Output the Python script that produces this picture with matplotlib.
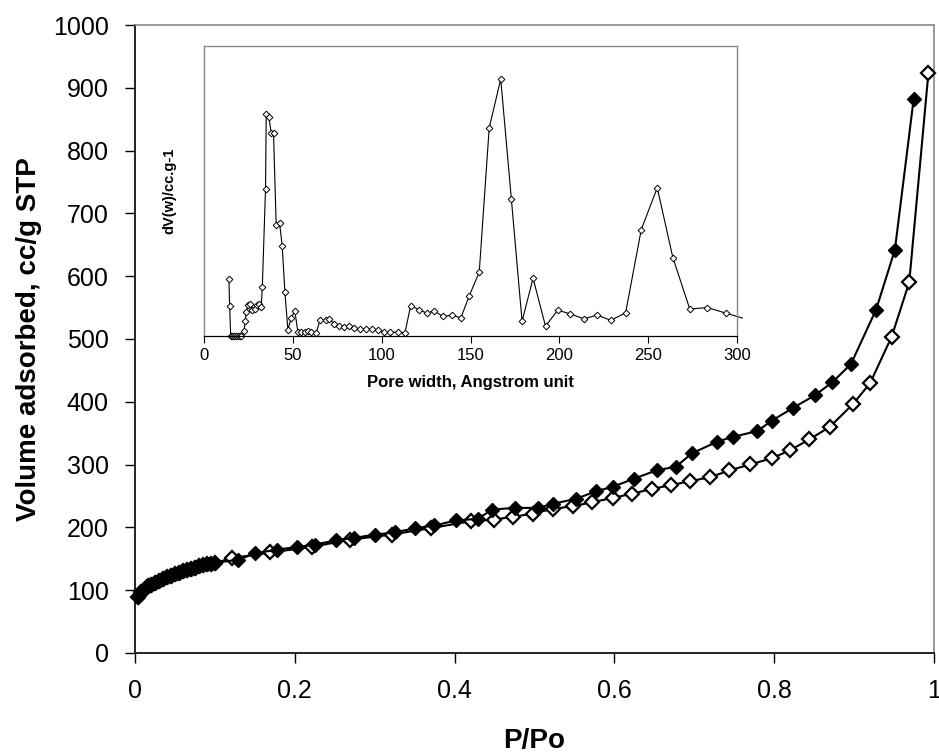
import matplotlib
matplotlib.use("Agg")
import matplotlib.pyplot as plt
import numpy as np

plt.rcParams['font.family'] = ['Liberation Sans', 'DejaVu Sans']

# main isotherm, low pressure part shared by both branches
low_p = [0.004, 0.008, 0.012, 0.016, 0.02, 0.025, 0.03, 0.035, 0.04, 0.045, 0.05,
         0.055, 0.06, 0.065, 0.07, 0.075, 0.08, 0.085, 0.09, 0.095, 0.1]
low_v = [89, 97, 102, 106, 109, 112, 115, 118, 121, 123, 125.5,
         127.5, 130, 132, 134, 136, 138, 139.5, 141, 142, 143.5]

# adsorption branch (open diamonds)
ads_p = [0.121, 0.169, 0.221, 0.269, 0.321, 0.371, 0.420, 0.4495, 0.473, 0.498,
         0.523, 0.548, 0.572, 0.598, 0.622, 0.6475, 0.671, 0.695, 0.720, 0.744,
         0.770, 0.797, 0.820, 0.844, 0.870, 0.899, 0.920, 0.947, 0.969, 0.993]
ads_v = [151, 160, 168.8, 180.5, 188.5, 199, 209.7, 212.5, 216.8, 222,
         229.5, 233.7, 240, 247, 253.5, 261.5, 267.3, 273.6, 280, 290.7,
         300.3, 310, 323, 340, 360.5, 397, 429.7, 503.7, 590.6, 924]

# desorption branch (filled diamonds)
des_p = [0.1295, 0.150, 0.1775, 0.2025, 0.225, 0.251, 0.274, 0.300, 0.325, 0.350,
         0.3745, 0.4016, 0.429, 0.447, 0.475, 0.5045, 0.5225, 0.552, 0.5775, 0.598,
         0.6245, 0.653, 0.677, 0.697, 0.729, 0.748, 0.779, 0.797, 0.823, 0.851,
         0.8725, 0.896, 0.9275, 0.951, 0.9745]
des_v = [148.6, 158.5, 164.5, 168.8, 172.5, 179.4, 183.2, 188.5, 192, 198.6,
         203, 211, 213.6, 228.4, 231, 231, 237.5, 245.5, 257.7, 264.7,
         277.5, 291, 296.6, 318, 336.6, 344, 353.5, 370, 389.8, 410.5,
         430.8, 460, 546.8, 642, 882]

# pore size distribution (inset), y in arbitrary units
psd_w = [14.0, 14.4, 15, 16, 17, 18, 19, 20, 21, 22.5, 23.2, 23.8, 24.7, 25.7, 27.2,
         28.5, 29.8, 30.9, 32.2, 32.8, 34.6, 35.0, 36.5, 37.8, 39.1, 40.6, 42.5, 44.0,
         45.5, 47.2, 49.1, 51.1, 52.8, 54.7, 56.6, 58.4, 60.3, 63.1, 65.4, 68.4, 70.6,
         73.0, 75.8, 78.5, 81.5, 84.6, 87.8, 91.2, 94.6, 97.8, 101.1, 104.9, 109.0,
         113.1, 116.3, 120.8, 125.3, 129.6, 134.3, 139.3, 144.6, 149.3, 154.9, 160.5,
         167.0, 173.0, 179.0, 185.2, 192.2, 199.1, 206.2, 213.9, 221.2, 229.0, 237.3,
         246.1, 255.1, 263.9, 273.4, 283.3, 293.6, 303]
psd_dv = [19.5, 10.2, 0, 0, 0, 0, 0, 0, 0, 1.7, 5.1, 8.3, 10.6, 11.1, 9.1,
          9.4, 10.6, 11.1, 10.0, 16.9, 50.6, 76.4, 75.5, 70.0, 70.0, 38.4, 39.0, 31.1,
          15.2, 2.2, 6.3, 8.6, 1.4, 1.4, 1.4, 1.7, 1.4, 1.1, 5.6, 5.4, 5.9,
          4.3, 3.3, 3.1, 3.4, 2.9, 2.4, 2.4, 2.4, 2.0, 1.5, 1.3, 1.3,
          1.1, 10.5, 9.1, 7.9, 8.6, 6.8, 7.1, 6.3, 13.9, 22.0, 71.7,
          88.6, 47.1, 5.1, 19.9, 3.4, 8.9, 7.6, 5.9, 7.2, 5.4, 8.0,
          36.7, 51.1, 27.0, 9.3, 9.8, 7.9, 6.2]

main_ticks = [0, 0.2, 0.4, 0.6, 0.8, 1]
main_ticklabels = ['0', '0.2', '0.4', '0.6', '0.8', '1']

fig = plt.figure(figsize=(9.39, 7.54), dpi=100)
ax = fig.add_axes([0.1438, 0.1340, 0.8509, 0.8328])

ax.plot(low_p + ads_p, low_v + ads_v, color='black', lw=1.5, marker='D', ms=7.5,
        mfc='white', mec='black', mew=1.6, clip_on=False, zorder=3)
ax.plot(low_p + des_p, low_v + des_v, color='black', lw=1.5, marker='D', ms=7.5,
        mfc='black', mec='black', clip_on=False, zorder=4)

ax.set_xlim(0, 1)
ax.set_ylim(0, 1000)
ax.set_xticks(main_ticks)
ax.set_xticklabels(main_ticklabels)
ax.set_yticks(np.arange(0, 1001, 100))
ax.tick_params(axis='both', labelsize=18, length=7, width=1, pad=12, direction='out')
ax.set_xlabel('P/Po', fontsize=20, fontweight='bold', labelpad=18)
ax.set_ylabel('Volume adsorbed, cc/g STP', fontsize=20, fontweight='bold', labelpad=8)
for s in ['left', 'bottom']:
    ax.spines[s].set_color('#222222')
    ax.spines[s].set_linewidth(1.4)
for s in ['top', 'right']:
    ax.spines[s].set_color('#888888')
    ax.spines[s].set_linewidth(1.2)

# inset
ins = fig.add_axes([0.2173, 0.5544, 0.5676, 0.3846])
ins.plot(psd_w, psd_dv, color='black', lw=0.8, marker='D', ms=3.4, mfc='white',
         mec='black', mew=0.7, markevery=list(range(len(psd_w) - 1)), clip_on=False)
ins.set_xlim(0, 300)
ins.set_ylim(0, 100)
ins.set_xticks([0, 50, 100, 150, 200, 250, 300])
ins.set_yticks([])
ins.tick_params(axis='x', labelsize=12, length=5, width=0.8, pad=4)
ins.set_xlabel('Pore width, Angstrom unit', fontsize=12, fontweight='bold', labelpad=8)
ins.set_ylabel('dV(w)/cc.g-1', fontsize=10.5, fontweight='bold', labelpad=20)
ins.spines['bottom'].set_color('black')
ins.spines['bottom'].set_linewidth(0.9)
for s in ['left', 'top', 'right']:
    ins.spines[s].set_color('#888888')
    ins.spines[s].set_linewidth(1.0)

fig.savefig('out.png', dpi=100)
